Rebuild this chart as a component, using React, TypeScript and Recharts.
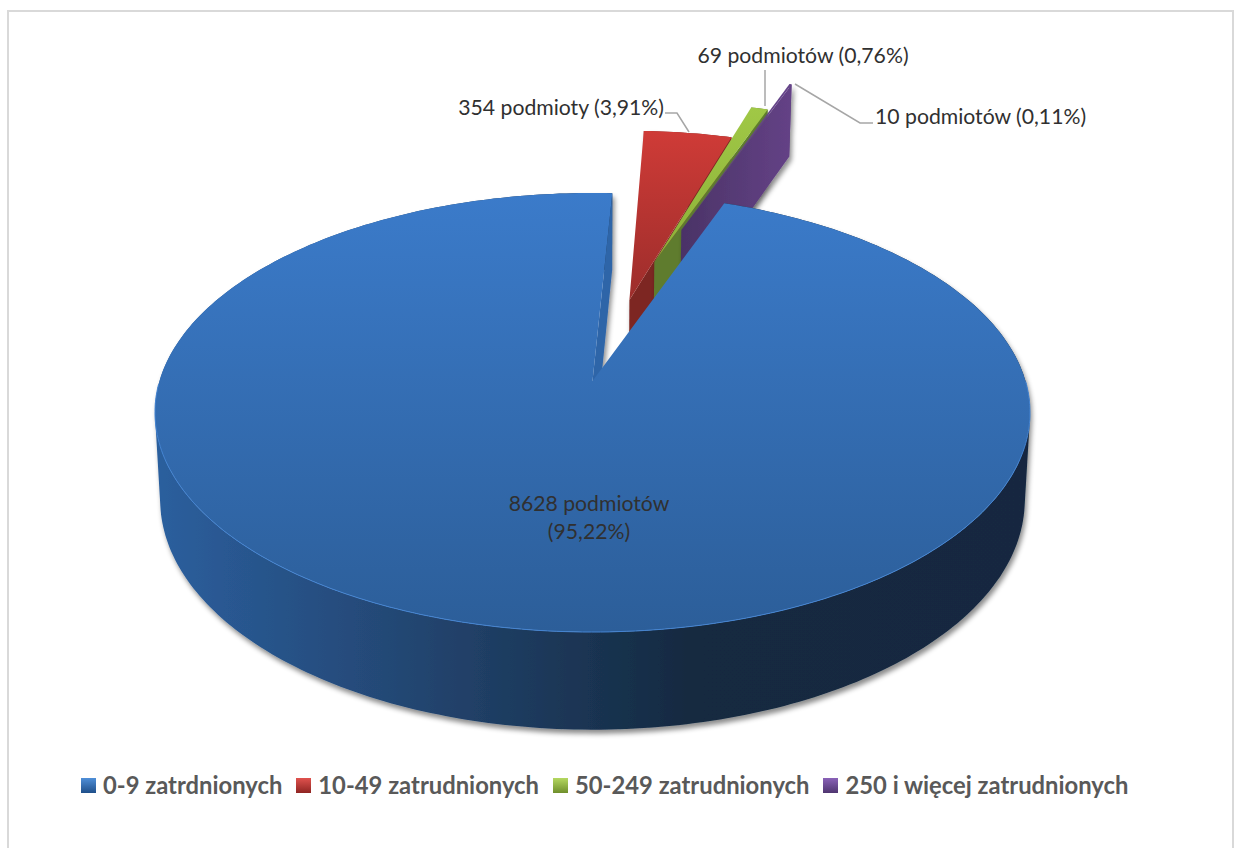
import { Legend, Pie, PieChart } from 'recharts'

const categories = ['0-9 zatrdnionych', '10-49 zatrudnionych', '50-249 zatrudnionych', '250 i więcej zatrudnionych']
const counts = [8628, 354, 69, 10]
const labelTexts = [
    ['8628 podmiotów', '(95,22%)'],
    ['354 podmioty (3,91%)'],
    ['69 podmiotów (0,76%)'],
    ['10 podmiotów (0,11%)'],
]

// draw order: red, green, purple, blue last so it sits on top of the others
const drawOrder = [1, 2, 3, 0]
const tableData = drawOrder.map(i => ({ name: categories[i], value: counts[i], idx: i }))

// look of the 3D slices, indexed like categories
const topStops = [
    ['#3b7bca', '#2c5e99'],
    ['#cf3b37', '#9c2d2b'],
    ['#a0c846', '#8bb038'],
    ['#66458a', '#5c3d7e'],
]
const wallStops = [
    ['#2b5f9e', '#234570', '#14293f', '#132840'],
    ['#7d2620', '#7d2620', '#7d2620', '#7d2620'],
    ['#5d7a2c', '#5f7b2e', '#5f7b2e', '#648230'],
    ['#4a3266', '#523870', '#5a3c7a', '#644286'],
]
const cutFaces = ['#2f65a8', '#7d2620', '#5f7b2e', 'url(#wall-3)']
const legendStops = [
    ['#4f8fd8', '#1f4f8a'],
    ['#e0524e', '#8f2522'],
    ['#b5d860', '#6f8f2c'],
    ['#8a62b8', '#4f3570'],
]

// pull-out of each slice, in units of the pie radius
const explode = [
    [0, 0],
    [0.09, -0.398],
    [0.155, -0.601],
    [0.228, -0.781],
]

const labelAnchors: { x: number; y: number; anchor: 'start' | 'middle' | 'end' }[] = [
    { x: 589, y: 511, anchor: 'middle' },
    { x: 664, y: 115, anchor: 'end' },
    { x: 803, y: 63, anchor: 'middle' },
    { x: 875, y: 124, anchor: 'start' },
]
const leaders = [
    '',
    '665,113 677,113 689,132',
    '765,70 765,106',
    '795,84 860,123 873,123',
]

const PERSPECTIVE = -0.1435
const SQUASH_TOP = 215 / 433
const LOWER = { dy: 86, rx: 0.988, ry: 225 / 433 }

function project(cx: number, cy: number, r: number, u: number, v: number, lower: boolean) {
    const w = 1 + PERSPECTIVE * v
    if (!lower) return [cx + (r * u) / w, cy + (r * SQUASH_TOP * v) / w]
    return [cx + (r * LOWER.rx * u) / w, cy + LOWER.dy + (r * LOWER.ry * v) / w]
}

function toPath(points: number[][]) {
    return 'M' + points.map(p => `${p[0].toFixed(1)},${p[1].toFixed(1)}`).join('L') + 'Z'
}

// all quads wound the same way, so the union has no holes at the silhouette
function quad(a: number[], b: number[], c: number[], d: number[]) {
    const pts = [a, b, c, d]
    let area = 0
    pts.forEach((p, i) => {
        const q = pts[(i + 1) % 4]
        area += p[0] * q[1] - q[0] * p[1]
    })
    return toPath(area < 0 ? [...pts].reverse() : pts)
}

function Slice3D(props: any) {
    const { cx, cy, outerRadius, startAngle, endAngle, payload } = props
    const idx: number = payload.idx
    const [du, dv] = explode[idx]

    const rim = (deg: number): [number, number] => {
        const a = (deg * Math.PI) / 180
        return [Math.cos(a) + du, -Math.sin(a) + dv]
    }

    const steps = Math.max(2, Math.ceil(Math.abs(startAngle - endAngle)))
    const arc: [number, number][] = []
    for (let i = 0; i <= steps; i++) {
        arc.push(rim(startAngle + ((endAngle - startAngle) * i) / steps))
    }

    const up = (p: number[]) => project(cx, cy, outerRadius, p[0], p[1], false)
    const down = (p: number[]) => project(cx, cy, outerRadius, p[0], p[1], true)

    const apex = [du, dv]
    const last = arc[arc.length - 1]
    const topFace = toPath([up(apex), ...arc.map(up)])
    const outerWall = arc
        .slice(1)
        .map((p, i) => quad(up(arc[i]), up(p), down(p), down(arc[i])))
        .join('')
    const cutWall = toPath([up(apex), up(last), down(last), down(apex)])

    return (
        <g>
            <g filter="url(#wall-shadow)">
                <path d={outerWall} fill={`url(#wall-${idx})`} />
                <path d={cutWall} fill={cutFaces[idx]} />
            </g>
            <path d={topFace} fill={`url(#top-${idx})`} />
            {idx === 0 && (
                <path
                    d={
                        'M' +
                        arc
                            .filter(p => p[1] > 0)
                            .map(up)
                            .map(p => `${p[0].toFixed(1)},${p[1].toFixed(1)}`)
                            .join('L')
                    }
                    fill="none"
                    stroke="#4484d2"
                    strokeWidth={1}
                />
            )}
        </g>
    )
}

function SliceLabel(props: any) {
    const i: number = props.payload?.idx ?? props.idx
    const pos = labelAnchors[i]
    return (
        <text
            x={pos.x}
            y={pos.y}
            textAnchor={pos.anchor}
            fill="#303030"
            style={{ fontFamily: 'Lato', fontSize: 21.2 }}
        >
            {labelTexts[i].map((line, n) => (
                <tspan key={n} x={pos.x} dy={n === 0 ? 0 : 28}>
                    {line}
                </tspan>
            ))}
        </text>
    )
}

function LeaderLine(props: any) {
    const i: number = props.payload?.idx ?? props.idx
    if (!leaders[i]) return <g />
    return <polyline points={leaders[i]} fill="none" stroke="#a6a6a6" strokeWidth={1.5} />
}

function ChartLegend() {
    return (
        <div
            style={{
                display: 'flex',
                gap: 14,
                fontFamily: 'Lato',
                fontWeight: 700,
                fontSize: 23.8,
                lineHeight: '28px',
                color: '#595959',
                whiteSpace: 'nowrap',
            }}
        >
            {categories.map((name, i) => (
                <div key={name} style={{ display: 'flex', alignItems: 'center', gap: 7 }}>
                    <span
                        style={{
                            width: 15,
                            height: 15,
                            display: 'inline-block',
                            background: `linear-gradient(${legendStops[i][0]}, ${legendStops[i][1]})`,
                        }}
                    />
                    {name}
                </div>
            ))}
        </div>
    )
}

export default function App() {
    return (
        <div style={{ position: 'absolute', left: 0, top: 0, width: 1234, height: 848, overflow: 'hidden', background: '#fff' }}>
            <div
                style={{
                    position: 'absolute',
                    left: 7,
                    top: 10,
                    width: 1223,
                    height: 900,
                    border: '2px solid #d9d9d9',
                }}
            />
            <PieChart
                width={1234}
                height={848}
                margin={{ top: 0, right: 0, bottom: 0, left: 0 }}
                style={{ position: 'absolute', left: 0, top: 0 }}
            >
                <defs>
                    <filter id="wall-shadow" x="-10%" y="-10%" width="125%" height="125%">
                        <feDropShadow dx={2} dy={4} stdDeviation={2.5} floodColor="#000" floodOpacity={0.45} />
                    </filter>
                    {categories.map((_, i) => (
                        <linearGradient key={`top-${i}`} id={`top-${i}`} x1="0" y1="0" x2="0" y2="1">
                            <stop offset="0%" stopColor={topStops[i][0]} />
                            <stop offset="100%" stopColor={topStops[i][1]} />
                        </linearGradient>
                    ))}
                    {categories.map((_, i) => (
                        <linearGradient key={`wall-${i}`} id={`wall-${i}`} x1="0" y1="0" x2="1" y2="0">
                            <stop offset="0%" stopColor={wallStops[i][0]} />
                            <stop offset="30%" stopColor={wallStops[i][1]} />
                            <stop offset="62%" stopColor={wallStops[i][2]} />
                            <stop offset="100%" stopColor={wallStops[i][3]} />
                        </linearGradient>
                    ))}
                </defs>
                <Pie
                    data={tableData}
                    dataKey="value"
                    nameKey="name"
                    cx={592.5}
                    cy={381}
                    innerRadius={0}
                    outerRadius={433}
                    startAngle={87}
                    endAngle={-273}
                    stroke="none"
                    shape={Slice3D}
                    label={SliceLabel}
                    labelLine={LeaderLine}
                    isAnimationActive={false}
                />
                <Legend
                    content={ChartLegend}
                    wrapperStyle={{ left: 81, top: 771, bottom: 'auto', width: 'auto' }}
                />
            </PieChart>
        </div>
    )
}
